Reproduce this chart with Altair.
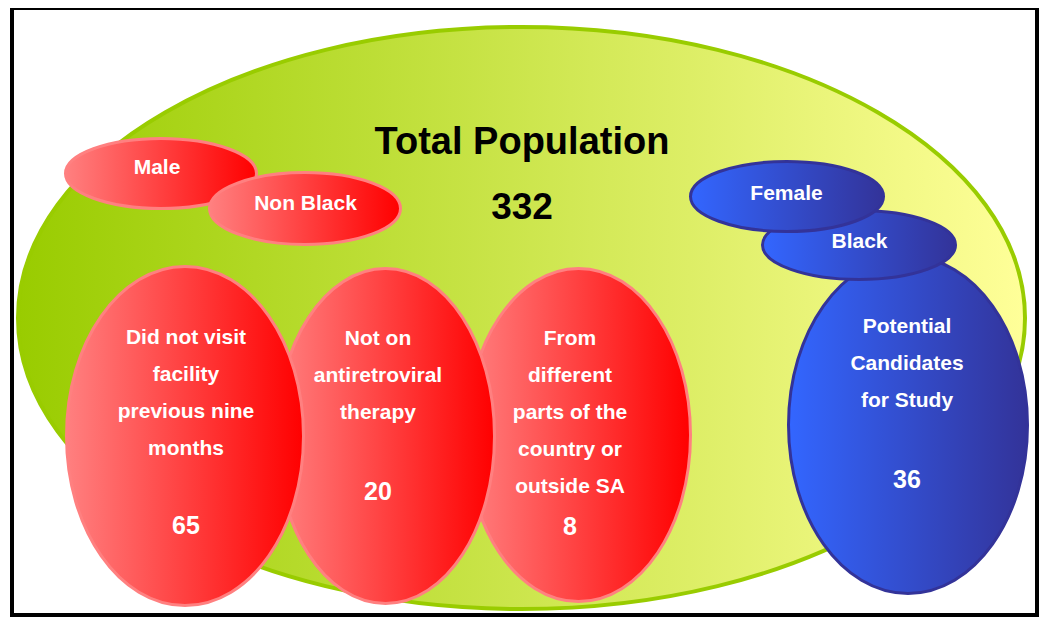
import altair as alt
import pandas as pd

# ---------------- data ----------------
title_text = "Total Population"
total_count = 332
male_filters = ["Male", "Non Black"]
female_filters = ["Female", "Black"]
excluded_lines = [
    ["Did not visit", "facility", "previous nine", "months"],
    ["Not on", "antiretroviral", "therapy"],
    ["From", "different", "parts of the", "country or", "outside SA"],
]
excluded_counts = [65, 20, 8]
candidate_lines = ["Potential", "Candidates", "for Study"]
candidate_count = 36

# ---------------- layout (page pixel geometry) ----------------
W, H = 1031, 609
OFF = 8  # page margin

# ellipse geometry: (cx, cy, rx, ry)
geo_total = (521.5, 318, 503.5, 291)
geo_male = [(161, 173.5, 95.5, 35), (305, 208.5, 95.5, 36)]
geo_excl = [(185, 436, 118.5, 169.5), (385.5, 436, 109, 167.5), (578.5, 435, 112, 166.5)]
geo_cand = (908, 425, 119.5, 168.5)
geo_female = [(787, 196.5, 96.5, 35), (859, 245, 96.5, 34.5)]

LINE = 37
excl_text_x = [186, 378, 570]
excl_first_y = [337, 338, 338]
excl_count_y = [524.5, 490.5, 526]
cand_text_x, cand_first_y, cand_count_y = 907, 326, 479
male_text = [(157, 167), (305.5, 203)]
female_text = [(786.5, 192.5), (859.5, 240.5)]


def ellipse_path(rx, ry):
    b = ry / rx
    k = 0.5523
    return (f"M -1 0 C -1 {-k*b:.4f} {-k} {-b:.4f} 0 {-b:.4f} "
            f"C {k} {-b:.4f} 1 {-k*b:.4f} 1 0 "
            f"C 1 {k*b:.4f} {k} {b:.4f} 0 {b:.4f} "
            f"C {-k} {b:.4f} -1 {k*b:.4f} -1 0 Z")


def ell_rows(geos, start_order):
    rows = []
    for i, (cx, cy, rx, ry) in enumerate(geos):
        rows.append({"cx": cx - OFF, "cy": cy - OFF, "shape": ellipse_path(rx, ry),
                     "size": (2 * rx) ** 2, "order": start_order + i})
    return pd.DataFrame(rows)


xs = alt.Scale(domain=[0, W], range=[0, W])
ys = alt.Scale(domain=[0, H], range=[0, H])


def ellipse_layer(df, grad, stroke, sw):
    return alt.Chart(df).mark_point(
        filled=True, opacity=1, fill=grad, stroke=stroke, strokeWidth=sw
    ).encode(
        x=alt.X("cx:Q", scale=xs, axis=None),
        y=alt.Y("cy:Q", scale=ys, axis=None),
        shape=alt.Shape("shape:N", scale=None),
        size=alt.Size("size:Q", scale=None),
        order=alt.Order("order:Q"),
    )


green = alt.LinearGradient(gradient="linear", x1=0, x2=1, y1=0, y2=0,
                           stops=[alt.GradientStop(color="#99CC00", offset=0),
                                  alt.GradientStop(color="#FFFF99", offset=1)])
red = alt.LinearGradient(gradient="linear", x1=0, x2=1, y1=0, y2=0,
                         stops=[alt.GradientStop(color="#FF8080", offset=0),
                                alt.GradientStop(color="#FF0000", offset=1)])
blue = alt.LinearGradient(gradient="linear", x1=0, x2=1, y1=0, y2=0,
                          stops=[alt.GradientStop(color="#3366FF", offset=0),
                                 alt.GradientStop(color="#333399", offset=1)])

# draw order: big ellipse, male/non-black, exclusions (right one at back), candidates
df_green = ell_rows([geo_total], 0)
df_red = pd.concat([ell_rows(geo_male, 0), ell_rows(list(reversed(geo_excl)), 2)], ignore_index=True)
df_blue = ell_rows([geo_cand, geo_female[1], geo_female[0]], 0)

l_green = ellipse_layer(df_green, green, "#99CC00", 4)
l_red = ellipse_layer(df_red, red, "#FF8080", 3)
l_blue = ellipse_layer(df_blue, blue, "#333399", 3)

# ---------------- texts ----------------
rows = []
rows.append({"x": 522, "y": 142.5, "t": title_text, "s": 38, "c": "black"})
rows.append({"x": 522, "y": 207.5, "t": str(total_count), "s": 37, "c": "black"})
for lab, (x, y) in zip(male_filters, male_text):
    rows.append({"x": x, "y": y + 1, "t": lab, "s": 21, "c": "white"})
for lab, (x, y) in zip(female_filters, female_text):
    rows.append({"x": x, "y": y + 1, "t": lab, "s": 21, "c": "white"})
for lines, cnt, x, y0, yc in zip(excluded_lines, excluded_counts, excl_text_x, excl_first_y, excl_count_y):
    for i, ln in enumerate(lines):
        rows.append({"x": x, "y": y0 + i * LINE + 1, "t": ln, "s": 21, "c": "white"})
    rows.append({"x": x, "y": yc + 1, "t": str(cnt), "s": 25, "c": "white"})
for i, ln in enumerate(candidate_lines):
    rows.append({"x": cand_text_x, "y": cand_first_y + i * LINE + 1, "t": ln, "s": 21, "c": "white"})
rows.append({"x": cand_text_x, "y": cand_count_y + 1, "t": str(candidate_count), "s": 25, "c": "white"})
df_text = pd.DataFrame(rows)
df_text["x"] = df_text["x"] - OFF
df_text["y"] = df_text["y"] - OFF

l_text = alt.Chart(df_text).mark_text(
    font="Liberation Sans", fontWeight="bold", align="center", baseline="middle"
).encode(
    x=alt.X("x:Q", scale=xs, axis=None),
    y=alt.Y("y:Q", scale=ys, axis=None),
    text="t:N",
    size=alt.Size("s:Q", scale=None),
    color=alt.Color("c:N", scale=None),
)

# ---------------- frame ----------------
l_frame = alt.Chart(pd.DataFrame({"a": [0]})).mark_rect(
    filled=False, stroke="black", strokeWidth=4
).encode(x=alt.value(4), x2=alt.value(W - 2), y=alt.value(0), y2=alt.value(H - 2))

chart = alt.layer(l_green, l_red, l_blue, l_text, l_frame).properties(
    width=W, height=H, padding=0, autosize=alt.AutoSizeParams(type="none"),
    background="white",
).configure_view(stroke=None)

chart.save("out.html", embed_options={"renderer": "svg", "actions": False})
